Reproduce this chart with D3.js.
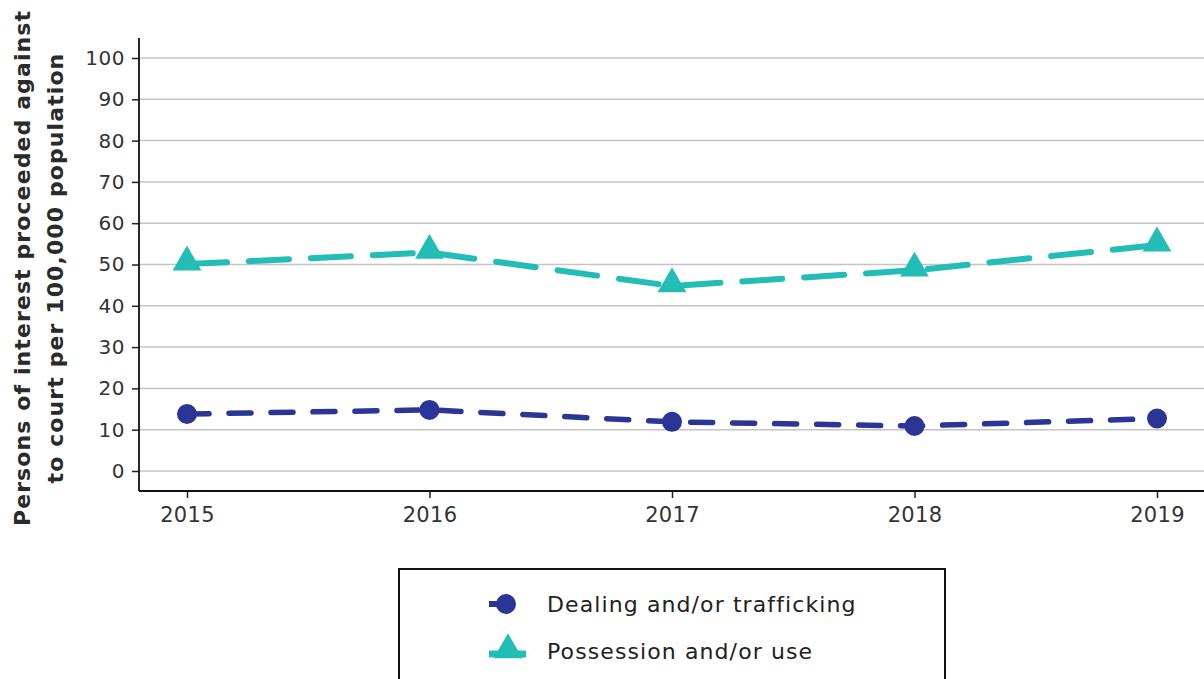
<!DOCTYPE html>
<html>
<head>
<meta charset="utf-8">
<script src="https://cdn.jsdelivr.net/npm/d3@7"></script>
<style>
  body { margin: 0; background: #fff; }
  svg { display: block; font-family: "DejaVu Sans", sans-serif; }
</style>
</head>
<body>
<div id="chart"></div>
<script>
const years = [2015, 2016, 2017, 2018, 2019];
const dealing = [13.8, 14.8, 11.9, 10.9, 12.7];
const possession = [50.1, 52.9, 44.8, 48.6, 54.7];
const yTicks = [0, 10, 20, 30, 40, 50, 60, 70, 80, 90, 100];
const seriesNames = ["Dealing and/or trafficking", "Possession and/or use"];

const width = 1204, height = 679;
const navy = "#2b3595", teal = "#22bdb5";

const svg = d3.select("#chart").append("svg")
    .attr("width", width)
    .attr("height", height);

const x = d3.scaleLinear().domain([2015, 2019]).range([187, 1157]);
const y = d3.scaleLinear().domain([0, 100]).range([471, 58]);

const axisLeft = 139, axisBottom = 491, axisTop = 38, plotRight = 1204;

// gridlines
svg.append("g")
    .selectAll("line")
    .data(yTicks)
    .enter().append("line")
    .attr("x1", axisLeft).attr("x2", plotRight)
    .attr("y1", d => y(d)).attr("y2", d => y(d))
    .attr("stroke", "#c4c4c4")
    .attr("stroke-width", 1.5);

const styleAxis = (g, size, spacing) => {
    g.attr("font-family", null).attr("font-size", null);
    g.select(".domain").remove();
    g.selectAll("line").attr("stroke", "#222").attr("stroke-width", 1.5);
    g.selectAll("text")
        .attr("fill", "#333")
        .style("font-family", "'DejaVu Sans', sans-serif")
        .style("font-size", size + "px")
        .style("letter-spacing", spacing + "px");
};

// y axis
svg.append("g")
    .attr("transform", `translate(${axisLeft},0)`)
    .call(d3.axisLeft(y).tickValues(yTicks).tickSize(7).tickPadding(7).tickSizeOuter(0))
    .call(styleAxis, 20, 0.5);

svg.append("line")
    .attr("x1", axisLeft).attr("x2", axisLeft)
    .attr("y1", axisTop).attr("y2", axisBottom)
    .attr("stroke", "#111").attr("stroke-width", 1.8);

// x axis
svg.append("g")
    .attr("transform", `translate(0,${axisBottom})`)
    .call(d3.axisBottom(x).tickValues(years).tickFormat(d3.format("d")).tickSize(7).tickPadding(9).tickSizeOuter(0))
    .call(styleAxis, 21, 0.3);

svg.append("line")
    .attr("x1", axisLeft).attr("x2", plotRight)
    .attr("y1", axisBottom).attr("y2", axisBottom)
    .attr("stroke", "#111").attr("stroke-width", 1.8);

// y title
const title = svg.append("text")
    .attr("transform", "translate(0,268) rotate(-90)")
    .attr("text-anchor", "middle")
    .attr("fill", "#2a2a2a")
    .style("font-size", "22px")
    .style("font-weight", "bold")
    .style("letter-spacing", "1.1px");
title.append("tspan").attr("x", 0).attr("y", 30).text("Persons of interest proceeded against");
title.append("tspan").attr("x", 0).attr("y", 63).text("to court per 100,000 population");

// lines
const line = d3.line()
    .x((d, i) => x(years[i]))
    .y(d => y(d));

svg.append("path")
    .datum(possession)
    .attr("fill", "none")
    .attr("stroke", teal)
    .attr("stroke-width", 6)
    .attr("stroke-linecap", "round")
    .attr("stroke-dasharray", "40,22")
    .attr("d", line);

svg.append("path")
    .datum(dealing)
    .attr("fill", "none")
    .attr("stroke", navy)
    .attr("stroke-width", 5.5)
    .attr("stroke-linecap", "round")
    .attr("stroke-dasharray", "22,20")
    .attr("d", line);

const tri = d3.symbol().type(d3.symbolTriangle).size(360);

svg.selectAll(".tri")
    .data(possession)
    .enter().append("path")
    .attr("d", tri)
    .attr("transform", (d, i) => `translate(${x(years[i])},${y(d) - 2})`)
    .attr("fill", teal);

svg.selectAll(".dot")
    .data(dealing)
    .enter().append("circle")
    .attr("cx", (d, i) => x(years[i]))
    .attr("cy", d => y(d))
    .attr("r", 10)
    .attr("fill", navy);

// legend
svg.append("rect")
    .attr("x", 399).attr("y", 569)
    .attr("width", 546).attr("height", 130)
    .attr("fill", "#fff")
    .attr("stroke", "#111")
    .attr("stroke-width", 2);

const legend = svg.append("g");
const legendY = [604, 651];

legend.append("line")
    .attr("x1", 489).attr("x2", 500)
    .attr("y1", legendY[0]).attr("y2", legendY[0])
    .attr("stroke", navy).attr("stroke-width", 6);
legend.append("circle")
    .attr("cx", 506).attr("cy", legendY[0]).attr("r", 10)
    .attr("fill", navy);

legend.append("line")
    .attr("x1", 489).attr("x2", 526)
    .attr("y1", legendY[1] + 3).attr("y2", legendY[1] + 3)
    .attr("stroke", teal).attr("stroke-width", 7);
legend.append("path")
    .attr("d", tri)
    .attr("transform", `translate(508,${legendY[1] - 1})`)
    .attr("fill", teal);

legend.selectAll("text")
    .data(seriesNames)
    .enter().append("text")
    .attr("x", 547)
    .attr("y", (d, i) => legendY[i])
    .attr("dy", "0.35em")
    .attr("fill", "#222")
    .style("font-size", "22px")
    .style("letter-spacing", "1.1px")
    .text(d => d);
</script>
</body>
</html>
